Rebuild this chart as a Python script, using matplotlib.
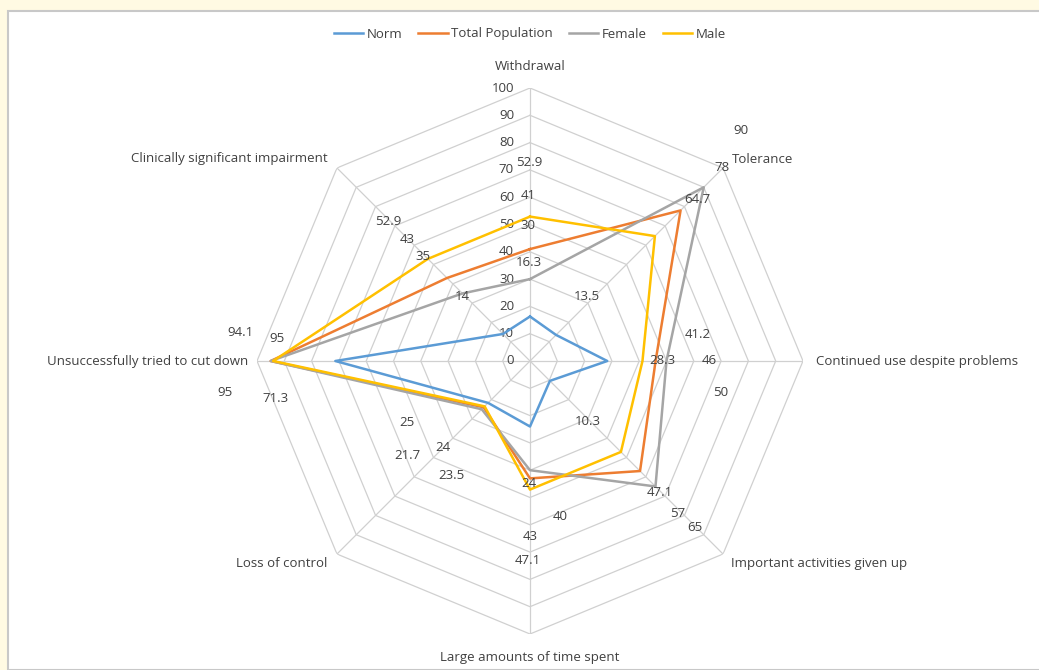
import numpy as np
import matplotlib.pyplot as plt
from matplotlib.patches import Rectangle

categorias = ["Withdrawal", "Tolerance", "Continued use despite problems",
              "Important activities given up", "Large amounts of time spent",
              "Loss of control", "Unsuccessfully tried to cut down",
              "Clinically significant impairment"]
norm = [16.3, 13.5, 28.3, 10.3, 24, 21.7, 71.3, 14]
total = [41, 78, 46, 57, 43, 24, 95, 43]
female = [30, 90, 50, 65, 40, 25, 95, 35]
male = [52.9, 64.7, 41.2, 47.1, 47.1, 23.5, 94.1, 52.9]
ticks_r = list(range(0, 101, 10))

series = [("Norm", norm, "#5B9BD5"),
          ("Total Population", total, "#ED7D31"),
          ("Female", female, "#A5A5A5"),
          ("Male", male, "#FFC000")]

# label offsets in pixels (dx, dy) from each point, as in the original picture
offsets = {
    "Norm": [(-1, 54), (31, 38), (55, 0), (38, -41), (-1, -57), (-81, -53), (-60, -38), (-41, 37)],
    "Total Population": [(-2, 54), (41, 43), (54, 0), (38, -42), (0, -58), (-41, -40), (-46, -31), (-40, 38)],
    "Female": [(-2, 54), (37, 57), (54, -32), (39, -41), (30, -46), (-75, -13), (6, 23), (-39, 37)],
    "Male": [(-1, 54), (42, 37), (55, 26), (39, -41), (-2, -71), (-33, -69), (-33, 29), (-40, 37)],
}

plt.rcParams['font.family'] = ['Open Sans', 'DejaVu Sans']

fig = plt.figure(figsize=(10.39, 6.70), dpi=100)
fig.patch.set_facecolor("#FFFAE3")
fig.patches.append(Rectangle((8 / 1039, 0), 1, 1 - 11 / 670, transform=fig.transFigure,
                             facecolor="white", edgecolor="#C8C8C8", linewidth=1.5,
                             zorder=-10))

ax = fig.add_axes([257 / 1039, 36 / 670, 546 / 1039, 546 / 670], projection="polar")
ax.set_zorder(2)
ax.set_theta_zero_location("N")
ax.set_theta_direction(-1)
ax.set_ylim(0, 100)
ax.grid(False)
ax.spines["polar"].set_visible(False)
ax.set_xticks([])
ax.set_yticks([])
ax.patch.set_alpha(0)

n = len(categorias)
ang = np.linspace(0, 2 * np.pi, n, endpoint=False)
ang_c = np.append(ang, ang[0])

# octagon grid
for r in ticks_r[1:]:
    ax.plot(ang_c, [r] * (n + 1), color="#D0D0D0", lw=0.9, zorder=1)
for a in ang:
    ax.plot([a, a], [0, 100], color="#D0D0D0", lw=0.9, zorder=1)

for r in ticks_r:
    ax.annotate(str(r), (0, r), xytext=(-16, 0), textcoords="offset pixels",
                ha="right", va="center", fontsize=9.5, color="#404040")

for nome, vals, cor in series:
    ax.plot(ang_c, vals + vals[:1], color=cor, lw=1.8, label=nome, zorder=3)

for nome, vals, cor in series:
    for i, v in enumerate(vals):
        dx, dy = offsets[nome][i]
        ax.annotate(f"{v:g}", (ang[i], v), xytext=(dx, dy), textcoords="offset pixels",
                    ha="center", va="center", fontsize=9.5, color="#404040", zorder=4)

# category labels
cat_pos = [(0, 21, "center"), (9, 8, "left"), (13, 0, "left"), (8, -9, "left"),
           (0, -24, "center"), (-10, -9, "right"), (-9, 0, "right"), (-9, 9, "right")]
for i, c in enumerate(categorias):
    dx, dy, ha = cat_pos[i]
    ax.annotate(c, (ang[i], 100), xytext=(dx, dy), textcoords="offset pixels",
                ha=ha, va="center", fontsize=9.5, color="#404040")

leg = ax.legend(loc="center", bbox_to_anchor=(0.5, (670 - 34 - 36) / 546), ncol=4,
                frameon=False, fontsize=9.5, handlelength=2.2, columnspacing=1.2,
                handletextpad=0.3)
for t in leg.get_texts():
    t.set_color("#404040")

fig.savefig("out.png", dpi=100, facecolor=fig.get_facecolor())
